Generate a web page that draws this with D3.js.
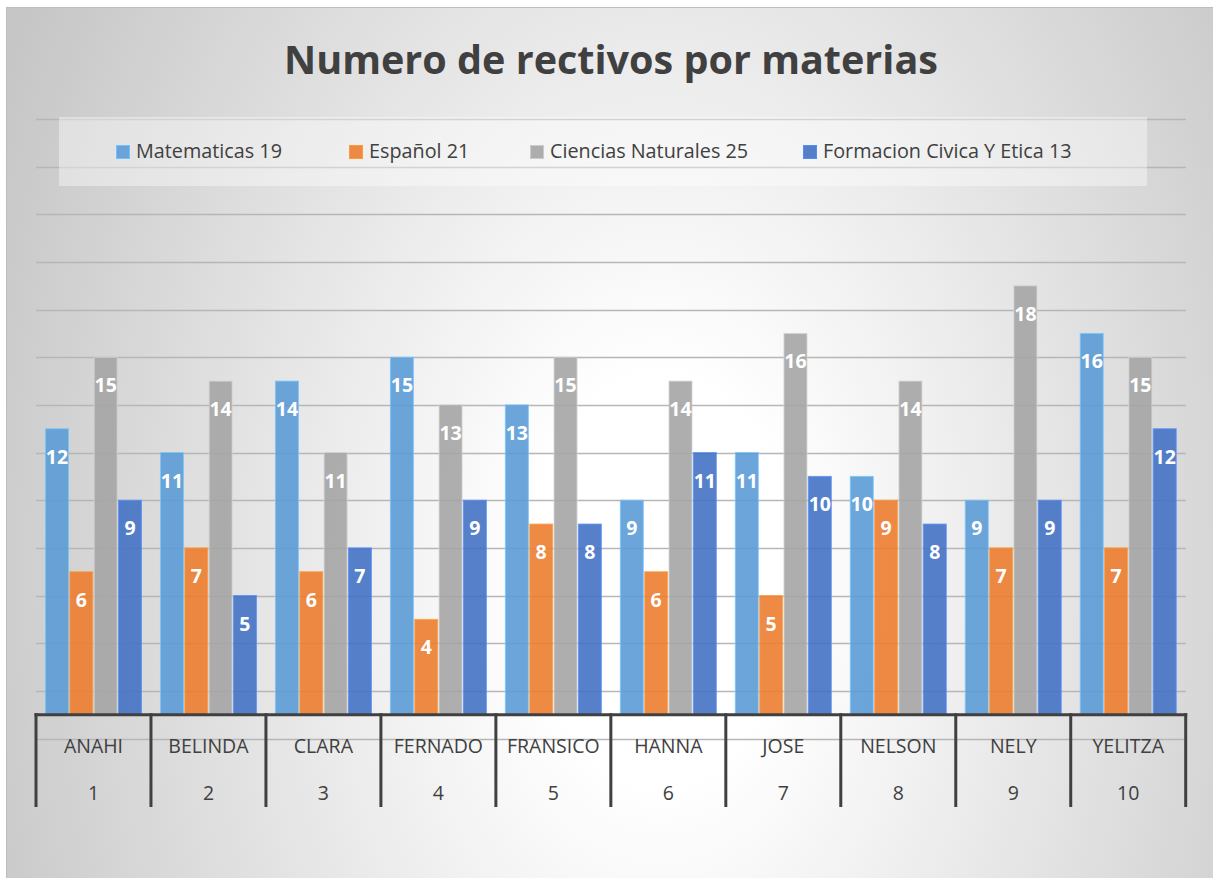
<!DOCTYPE html>
<html>
<head>
<meta charset="utf-8">
<script src="https://cdn.jsdelivr.net/npm/d3@7"></script>
<style>
html,body{margin:0;padding:0;background:#ffffff;}
svg{display:block;font-family:"Open Sans",sans-serif;}
</style>
</head>
<body>
<svg id="chart" width="1213" height="878"></svg>
<script>
const title = "Numero de rectivos por materias";
const categories = ["ANAHI","BELINDA","CLARA","FERNADO","FRANSICO","HANNA","JOSE","NELSON","NELY","YELITZA"];
const categoryNumbers = ["1","2","3","4","5","6","7","8","9","10"];
const seriesNames = ["Matematicas 19","Español 21","Ciencias Naturales 25","Formacion Civica Y Etica 13"];
const matematicas = [12,11,14,15,13,9,11,10,9,16];
const espanol     = [6,7,6,4,8,6,5,9,7,7];
const ciencias    = [15,14,11,13,15,14,16,14,18,15];
const formacion   = [9,5,7,9,8,11,10,8,9,12];
const yTicks = d3.range(-1, 26, 2);
const colors = ["#5B9BD5","#ED7D31","#A5A5A5","#4472C4"];

const seriesValues = [matematicas, espanol, ciencias, formacion];
const svg = d3.select("#chart");
const defs = svg.append("defs");

// background radial gradient (elliptical, taller than wide)
const rg = defs.append("radialGradient").attr("id","bg")
  .attr("gradientUnits","userSpaceOnUse")
  .attr("cx",660).attr("cy",580).attr("r",730).attr("fx",660).attr("fy",580)
  .attr("gradientTransform","translate(660,580) scale(1,1.55) translate(-660,-580)");
rg.append("stop").attr("offset",0).attr("stop-color","#ffffff");
rg.append("stop").attr("offset",0.18).attr("stop-color","#ffffff");
rg.append("stop").attr("offset",1).attr("stop-color","#c6c6c6");

svg.append("rect").attr("x",6.5).attr("y",7.5).attr("width",1213).attr("height",878)
  .attr("fill","url(#bg)").attr("stroke","#bdbdbd").attr("stroke-width",1);

// scales
const x = d3.scaleBand().domain(categories).range([36, 1185.7]).paddingInner(0).paddingOuter(0);
const xs = d3.scaleBand().domain(d3.range(4)).range([0, x.bandwidth()]).paddingInner(0.055).paddingOuter(0.39);
const y = d3.scaleLinear().domain([-1, 25]).range([738.5, 119]);

// gridlines
svg.append("g").selectAll("line").data(yTicks).join("line")
  .attr("x1",36).attr("x2",1186)
  .attr("y1",d=>Math.round(y(d))+0.5).attr("y2",d=>Math.round(y(d))+0.5)
  .attr("stroke","#b6b6b6").attr("stroke-width",1.3);

// legend box
svg.append("rect").attr("x",59).attr("y",117).attr("width",1088).attr("height",69)
  .attr("fill","#ffffff").attr("fill-opacity",0.4);

// title
const t = svg.append("text").text(title)
  .attr("x",611).attr("y",74).attr("text-anchor","middle")
  .attr("font-weight","bold").attr("fill","#404040").attr("font-size",40);
{
  const w = t.node().getComputedTextLength();
  t.attr("font-size", 40*654/w);
}

// legend (layout positions)
const legendX = [116, 349, 530, 803];
{
  const lg = svg.append("g");
  seriesNames.forEach((name,i)=>{
    const cx = legendX[i];
    lg.append("rect").attr("x",cx+0.5).attr("y",145.5).attr("width",13).attr("height",13)
      .attr("fill",colors[i]).attr("fill-opacity",0.9)
      .attr("stroke",d3.color(colors[i]).brighter(0.6)).attr("stroke-width",1);
    lg.append("text").attr("x",cx+20).attr("y",158).attr("font-size",19.8)
      .attr("fill","#404040").text(name);
  });
}

// bars
const groups = svg.append("g").selectAll("g").data(categories).join("g")
  .attr("transform",d=>`translate(${x(d)},0)`);
groups.each(function(cat, ci){
  const g = d3.select(this);
  seriesValues.forEach((vals, si)=>{
    const v = vals[ci];
    g.append("rect")
      .attr("x", xs(si)).attr("width", xs.bandwidth())
      .attr("y", y(v)).attr("height", y(0)-y(v))
      .attr("fill", colors[si]).attr("fill-opacity",0.9)
      .attr("stroke", d3.color(colors[si]).brighter(0.7)).attr("stroke-opacity",0.8).attr("stroke-width",1);
    g.append("text")
      .attr("x", xs(si)+xs.bandwidth()/2).attr("y", y(v)+35)
      .attr("text-anchor","middle").attr("font-weight","bold").attr("font-size",19.5)
      .attr("fill","#ffffff").text(v);
  });
});

// category axis
const axisG = svg.append("g");
axisG.append("line").attr("x1",34.5).attr("x2",1187.2).attr("y1",y(0)).attr("y2",y(0))
  .attr("stroke","#404040").attr("stroke-width",3);
const bounds = categories.map(c=>x(c)).concat([x.range()[1]]);
axisG.selectAll("line.sep").data(bounds).join("line").attr("class","sep")
  .attr("x1",d=>d).attr("x2",d=>d).attr("y1",y(0)-1.5).attr("y2",807)
  .attr("stroke","#404040").attr("stroke-width",3);
axisG.selectAll("text.name").data(categories).join("text").attr("class","name")
  .attr("x",d=>x(d)+x.bandwidth()/2).attr("y",752.5).attr("text-anchor","middle")
  .attr("font-size",19.5).attr("fill","#404040").text(d=>d);
axisG.selectAll("text.num").data(categoryNumbers).join("text").attr("class","num")
  .attr("x",(d,i)=>x(categories[i])+x.bandwidth()/2).attr("y",800).attr("text-anchor","middle")
  .attr("font-size",19.5).attr("fill","#404040").text(d=>d);
</script>
</body>
</html>
